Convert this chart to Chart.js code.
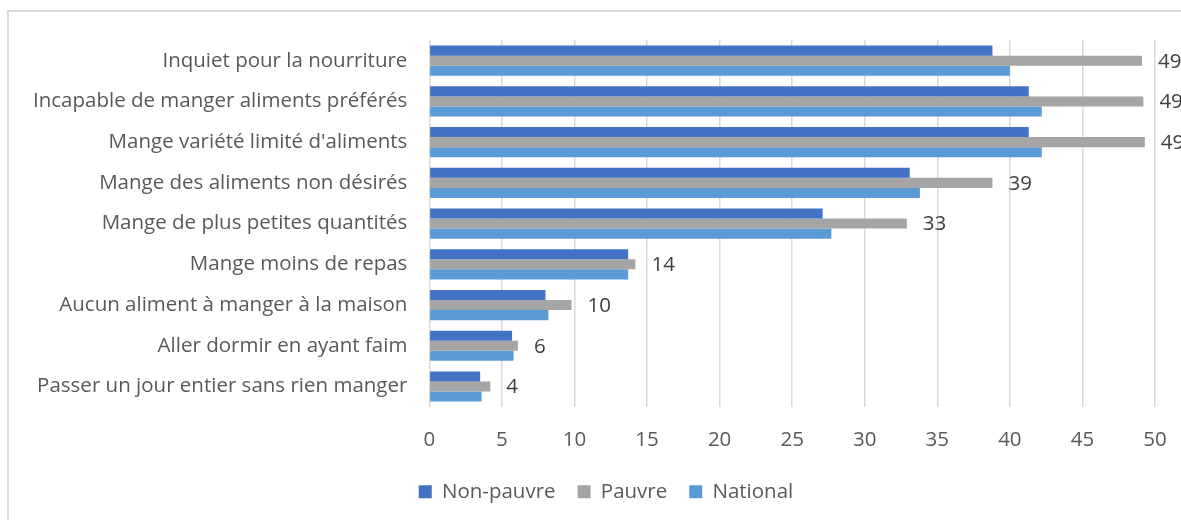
<!DOCTYPE html>
<html>
<head>
<meta charset="utf-8">
<script src="https://cdn.jsdelivr.net/npm/chart.js@4.4.1/dist/chart.umd.min.js"></script>
<style>
    html, body { margin: 0; padding: 0; background: #fff; overflow: hidden; width: 1181px; height: 520px; }
    #frame { position: absolute; left: 7px; top: 10px; width: 1220px; height: 600px; border: 2px solid #d9d9d9; box-sizing: border-box; }
    #wrap { position: absolute; left: 9px; top: 6px; width: 1196px; height: 506px; }
</style>
</head>
<body>
<div id="frame"></div>
<div id="wrap"><canvas id="foodChart"></canvas></div>
<script>
const categories = [
    "Inquiet pour la nourriture",
    "Incapable de manger aliments préférés",
    "Mange variété limité d'aliments",
    "Mange des aliments non désirés",
    "Mange de plus petites quantités",
    "Mange moins de repas",
    "Aucun aliment à manger à la maison",
    "Aller dormir en ayant faim",
    "Passer un jour entier sans rien manger"
];
const nonPauvre = [38.8, 41.3, 41.3, 33.1, 27.1, 13.7, 8.0, 5.7, 3.5];
const pauvre    = [49.1, 49.2, 49.3, 38.8, 32.9, 14.2, 9.8, 6.1, 4.2];
const national  = [40.0, 42.2, 42.2, 33.8, 27.7, 13.7, 8.2, 5.8, 3.6];
const pauvreLabels = ["49", "49", "49", "39", "33", "14", "10", "6", "4"];

const fontFamily = "'Open Sans', 'Noto Sans', sans-serif";
const fontSize = 20.5;

// draws the value labels next to the grey bars
const valueLabels = {
    id: "valueLabels",
    afterDatasetsDraw(chart) {
        const ctx = chart.ctx;
        const meta = chart.getDatasetMeta(1);
        ctx.save();
        ctx.font = fontSize + "px " + fontFamily;
        ctx.fillStyle = "#404040";
        ctx.textAlign = "left";
        ctx.textBaseline = "middle";
        meta.data.forEach((bar, i) => {
            ctx.fillText(pauvreLabels[i], bar.x + 16, bar.y + 1);
        });
        ctx.restore();
    }
};

// legend is centred on the whole frame, not on the plot
const shiftLegend = {
    id: "shiftLegend",
    afterLayout(chart) {
        chart.legend.left += 23;
        chart.legend.right += 23;
    }
};

new Chart(document.getElementById("foodChart"), {
    type: "bar",
    data: {
        labels: categories,
        datasets: [
            { label: "Non-pauvre", data: nonPauvre, backgroundColor: "#4472c4" },
            { label: "Pauvre", data: pauvre, backgroundColor: "#a5a5a5" },
            { label: "National", data: national, backgroundColor: "#5b9bd5" }
        ]
    },
    options: {
        indexAxis: "y",
        responsive: true,
        maintainAspectRatio: false,
        animation: false,
        datasets: { bar: { categoryPercentage: 0.74, barPercentage: 1.0 } },
        layout: { padding: { top: 10, right: 50, left: 2, bottom: 0 } },
        scales: {
            x: {
                min: 0,
                max: 50,
                ticks: { stepSize: 5, color: "#595959", font: { size: fontSize, family: fontFamily }, padding: 21 },
                grid: { color: "#d9d9d9", lineWidth: 1.5, drawTicks: false },
                border: { display: false },
                afterFit: scale => { scale.height -= 14; }
            },
            y: {
                ticks: { color: "#595959", font: { size: fontSize, family: fontFamily }, padding: 22 },
                grid: { display: false, drawTicks: false },
                border: { display: false }
            }
        },
        plugins: {
            legend: {
                position: "bottom",
                labels: { boxWidth: 13, boxHeight: 13, color: "#595959", font: { size: fontSize, family: fontFamily }, padding: 22 }
            },
            tooltip: { enabled: false }
        }
    },
    plugins: [valueLabels, shiftLegend]
});
</script>
</body>
</html>
